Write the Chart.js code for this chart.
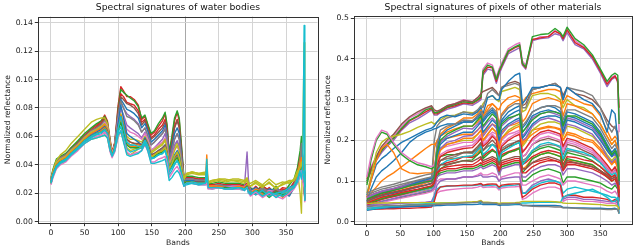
<!DOCTYPE html>
<html><head><meta charset="utf-8">
<script src="https://cdn.jsdelivr.net/npm/chart.js@4.4.1/dist/chart.umd.min.js"></script>
<style>
html,body{margin:0;padding:0;background:#fff;width:637px;height:249px;overflow:hidden}
#cl{position:absolute;left:0;top:0;width:320px;height:249px}
#cr{position:absolute;left:320px;top:0;width:317px;height:249px}
</style></head><body>
<canvas id="cl" width="320" height="249"></canvas>
<canvas id="cr" width="317" height="249"></canvas>
<script>
// ---------------- Left chart: water bodies ----------------
const waterBands = [0,3,8,14,22,30,40,50,60,68, 75,80,84,88,91,95,100,104,108,113, 118,124,130,135,140,144,149,154,160,166, 170,173,176,180,184,188,191,195,198,202, 210,220,230,232,234,240,250,260,270,280, 288,292,294,297,305,315,325,335,345,355, 362,367,371,373,375,377,378];

const water01 = [.030,.036,.043,.045,.047,.052,.056,.061,.065,.068, .071,.075,.071,.058,.049,.056,.082,.095,.092,.088, .088,.086,.082,.072,.074,.068,.061,.063,.067,.071, .076,.066,.047,.058,.071,.077,.071,.048,.030,.031, .031,.030,.030,.031,.026,.026,.027,.026,.026,.026, .025,.027,.024,.021,.025,.020,.024,.019,.023,.021, .027,.033,.043,.052,.045,.035,.020];
const water02 = [.031,.037,.044,.046,.048,.052,.057,.062,.066,.069, .071,.074,.070,.057,.048,.055,.080,.093,.091,.089, .087,.085,.081,.073,.075,.069,.062,.064,.069,.073, .077,.068,.049,.060,.073,.078,.073,.050,.031,.032, .032,.031,.031,.032,.027,.027,.028,.027,.027,.027, .026,.030,.025,.024,.021,.026,.020,.025,.019,.026, .030,.038,.050,.060,.045,.040,.025];
const water03 = [.029,.035,.041,.044,.046,.050,.055,.060,.064,.066, .069,.072,.068,.056,.048,.054,.076,.088,.086,.083, .082,.080,.076,.068,.071,.065,.058,.060,.063,.066, .070,.062,.046,.055,.066,.071,.066,.045,.030,.030, .030,.029,.029,.030,.025,.025,.026,.025,.025,.025, .024,.026,.023,.020,.024,.019,.023,.021,.018,.024, .026,.032,.040,.045,.035,.030,.018];
const water04 = [.028,.034,.040,.043,.045,.049,.053,.058,.062,.064, .066,.069,.066,.054,.047,.053,.072,.084,.080,.076, .074,.072,.069,.063,.066,.061,.054,.056,.059,.062, .066,.058,.043,.050,.058,.062,.058,.041,.029,.030, .030,.029,.029,.030,.025,.025,.026,.025,.025,.025, .024,.049,.030,.022,.020,.024,.019,.023,.021,.020, .025,.030,.038,.042,.030,.025,.016];
const water05 = [.028,.033,.039,.042,.044,.048,.052,.057,.061,.063, .065,.067,.064,.052,.046,.052,.070,.082,.073,.062, .060,.058,.056,.054,.059,.055,.047,.048,.050,.052, .054,.048,.038,.042,.047,.050,.047,.036,.028,.029, .029,.028,.028,.029,.024,.024,.025,.024,.024,.024, .023,.025,.022,.021,.019,.022,.018,.021,.020,.018, .024,.028,.034,.038,.030,.026,.016];
const water06 = [.028,.034,.040,.043,.045,.049,.053,.058,.062,.064, .066,.068,.065,.053,.047,.052,.068,.075,.068,.058, .056,.055,.054,.053,.057,.053,.045,.046,.048,.050, .053,.047,.037,.041,.045,.048,.045,.035,.028,.029, .029,.028,.028,.047,.025,.025,.025,.024,.024,.025, .024,.026,.022,.020,.023,.021,.018,.022,.017,.022, .025,.030,.036,.040,.032,.025,.015];
const water07 = [.029,.036,.043,.047,.050,.055,.060,.065,.070,.072, .073,.073,.069,.056,.048,.053,.066,.066,.060,.052, .050,.051,.052,.053,.058,.055,.048,.050,.052,.054, .057,.050,.040,.046,.052,.056,.052,.040,.031,.034, .035,.034,.035,.036,.028,.029,.030,.029,.030,.030, .029,.031,.027,.027,.029,.026,.030,.026,.028,.027, .030,.036,.020,.006,.060,.126,.040];
const water08 = [.027,.032,.038,.041,.043,.047,.051,.055,.058,.059, .060,.061,.059,.050,.046,.050,.061,.064,.056,.047, .046,.047,.048,.050,.055,.050,.041,.041,.042,.043, .044,.038,.029,.031,.034,.036,.034,.029,.025,.027, .027,.026,.027,.044,.024,.024,.024,.023,.023,.024, .022,.024,.021,.019,.022,.018,.021,.017,.020,.022, .024,.028,.035,.030,.040,.138,.015];
const water09 = [.026,.031,.037,.040,.042,.046,.050,.055,.058,.060, .061,.063,.060,.049,.045,.049,.060,.064,.057,.049, .047,.048,.049,.050,.054,.050,.042,.042,.044,.045, .046,.041,.031,.034,.037,.039,.036,.030,.025,.027, .027,.026,.026,.027,.023,.023,.024,.023,.023,.023, .022,.024,.021,.018,.021,.017,.020,.018,.016,.020, .023,.027,.033,.036,.028,.024,.014];
const water10 = [.027,.033,.039,.042,.044,.048,.052,.057,.060,.062, .064,.066,.063,.051,.046,.051,.066,.072,.065,.056, .054,.053,.053,.052,.057,.053,.046,.047,.049,.051, .053,.047,.036,.040,.044,.046,.043,.034,.027,.028, .028,.027,.027,.028,.024,.024,.025,.024,.024,.024, .023,.025,.022,.022,.019,.023,.020,.019,.022,.019, .025,.029,.036,.055,.040,.028,.017];
const water11 = [.029,.035,.042,.045,.047,.051,.055,.060,.064,.067, .070,.073,.069,.056,.048,.055,.078,.090,.088,.084, .083,.082,.078,.070,.072,.066,.059,.061,.065,.068, .072,.064,.045,.055,.067,.072,.067,.046,.030,.031, .031,.030,.030,.031,.026,.026,.026,.026,.026,.026, .025,.027,.024,.023,.021,.025,.022,.020,.024,.023, .028,.035,.045,.050,.040,.032,.020];
const water12 = [.028,.034,.040,.043,.045,.049,.053,.058,.062,.064, .066,.068,.065,.053,.047,.052,.070,.080,.075,.068, .066,.064,.062,.059,.063,.058,.050,.052,.055,.058, .062,.055,.041,.047,.054,.057,.053,.040,.028,.029, .029,.028,.028,.029,.024,.025,.025,.024,.025,.025, .024,.026,.022,.020,.023,.019,.022,.020,.019,.023, .025,.030,.038,.045,.034,.028,.016];
const water13 = [.027,.033,.039,.042,.044,.048,.052,.057,.060,.062, .063,.065,.062,.051,.046,.051,.064,.070,.063,.054, .052,.052,.052,.052,.057,.052,.045,.046,.048,.049, .051,.046,.036,.039,.043,.045,.042,.034,.027,.028, .028,.027,.027,.028,.024,.024,.024,.024,.024,.024, .023,.025,.022,.019,.022,.021,.017,.021,.019,.020, .024,.028,.034,.038,.030,.026,.016];
const water14 = [.028,.033,.039,.042,.044,.048,.052,.056,.060,.062, .064,.066,.063,.052,.046,.051,.067,.074,.067,.058, .056,.055,.055,.054,.058,.054,.047,.048,.050,.052, .054,.048,.037,.040,.045,.047,.044,.035,.027,.028, .028,.028,.028,.029,.024,.024,.025,.024,.024,.024, .023,.025,.022,.021,.020,.022,.019,.022,.018,.021, .024,.029,.036,.040,.031,.027,.017];
const water15 = [.029,.035,.041,.044,.046,.050,.054,.059,.063,.065, .067,.070,.067,.055,.048,.054,.074,.086,.083,.079, .078,.076,.073,.066,.069,.064,.056,.058,.061,.064, .068,.060,.044,.052,.062,.066,.062,.043,.029,.030, .030,.029,.029,.030,.025,.025,.026,.025,.025,.025, .024,.026,.023,.022,.024,.020,.023,.022,.020,.024, .026,.031,.040,.048,.036,.030,.018];
const water16 = [.028,.034,.041,.044,.046,.050,.054,.059,.063,.065, .067,.069,.066,.054,.047,.053,.068,.076,.070,.060, .058,.058,.057,.056,.060,.056,.049,.051,.053,.055, .058,.051,.039,.044,.050,.054,.050,.038,.030,.033, .034,.033,.033,.034,.027,.028,.029,.028,.029,.028, .027,.029,.026,.025,.027,.024,.028,.023,.027,.029, .029,.034,.042,.050,.045,.032,.020];
const water17 = [.028,.033,.039,.042,.044,.048,.052,.056,.059,.061, .062,.064,.062,.051,.046,.051,.063,.067,.060,.051, .049,.050,.051,.052,.057,.053,.045,.045,.047,.048, .050,.045,.035,.038,.041,.043,.040,.033,.026,.027, .028,.027,.027,.028,.024,.024,.024,.023,.024,.024, .023,.024,.021,.021,.019,.022,.018,.020,.021,.024, .025,.030,.036,.035,.033,.030,.018];
const water18 = [.029,.034,.041,.044,.046,.050,.054,.059,.063,.065, .067,.070,.067,.055,.048,.054,.072,.080,.074,.065, .063,.062,.060,.058,.062,.058,.050,.052,.054,.056, .059,.052,.040,.045,.051,.053,.049,.038,.028,.029, .029,.028,.028,.029,.024,.025,.025,.024,.025,.025, .024,.026,.022,.021,.023,.019,.022,.021,.019,.022, .025,.030,.038,.042,.032,.027,.016];
const water19 = [.029,.035,.042,.045,.047,.051,.055,.060,.064,.066, .068,.071,.068,.055,.048,.054,.075,.085,.080,.074, .073,.071,.068,.063,.066,.061,.054,.056,.059,.062, .065,.058,.043,.050,.058,.062,.058,.042,.029,.030, .030,.029,.029,.030,.025,.025,.026,.025,.025,.025, .024,.026,.023,.022,.020,.024,.021,.023,.019,.022, .026,.032,.042,.055,.045,.032,.018];
const water20 = [.027,.033,.039,.042,.044,.048,.052,.057,.060,.062, .064,.066,.063,.051,.046,.051,.065,.071,.064,.055, .053,.053,.053,.053,.057,.053,.046,.047,.049,.050, .052,.047,.036,.039,.043,.045,.042,.034,.027,.028, .028,.027,.027,.040,.025,.025,.025,.024,.024,.024, .023,.025,.022,.020,.022,.019,.021,.018,.020,.021, .024,.030,.040,.045,.035,.028,.016];
const water21 = [.027,.032,.038,.041,.043,.047,.051,.055,.058,.059, .060,.061,.059,.050,.046,.050,.060,.063,.057,.048, .047,.049,.051,.053,.057,.053,.045,.047,.049,.050, .052,.047,.037,.041,.046,.049,.045,.035,.030,.034, .035,.034,.034,.035,.028,.029,.030,.030,.029,.029, .028,.030,.026,.025,.028,.025,.027,.024,.026,.028, .029,.033,.038,.042,.035,.030,.020];
const water22 = [.028,.033,.039,.042,.044,.048,.052,.057,.060,.062, .063,.065,.062,.051,.046,.051,.066,.074,.066,.056, .054,.054,.053,.053,.057,.053,.044,.045,.047,.048, .050,.045,.033,.036,.040,.043,.040,.032,.025,.026, .027,.026,.026,.033,.024,.023,.024,.023,.023,.023, .022,.024,.020,.019,.021,.018,.021,.019,.018,.021, .024,.027,.032,.036,.034,.036,.015];

const waterSeries = [water08,water09,water22,water17,water21,water13,water20,water10,water14,water05,water06,water16,water18,water12,water07,water19,water04,water15,water03,water11,water02,water01];
const waterColors = ['cyan','pink','cyan','cyan','olive','green','orange','gray','brown','blue','orange','olive','pink','purple','olive','gray','purple','blue','brown','red','green','red'];

const waterXTicks = [0,50,100,150,200,250,300,350];
const waterXTickLabels = ['0','50','100','150','200','250','300','350'];
const waterYTicks = [0,0.02,0.04,0.06,0.08,0.10,0.12,0.14];
const waterYTickLabels = ['0.00','0.02','0.04','0.06','0.08','0.10','0.12','0.14'];

// ---------------- Right chart: other materials ----------------
const otherBands = [0,6,14,22,30,40,52,64,76,88, 97,101,105,110,120,132,145,158,166,171, 174,181,188,194,198,202,212,222,229,233, 238,248,260,272,282,290,294,300,312,325, 338,350,360,367,372,376,378];

const topPink = [.11,.135,.16,.18,.195,.21,.235,.255,.265,.278, .282,.27,.27,.275,.285,.29,.30,.295,.305,.31, .375,.39,.385,.355,.375,.39,.425,.435,.44,.395, .385,.445,.455,.455,.47,.46,.45,.47,.445,.43, .405,.37,.34,.355,.36,.34,.22];
const topGreen = [.10,.125,.155,.175,.19,.205,.23,.25,.26,.275, .28,.268,.268,.272,.282,.288,.295,.292,.30,.308, .37,.385,.38,.35,.37,.385,.42,.43,.435,.39, .38,.455,.46,.462,.475,.465,.455,.478,.45,.435, .41,.375,.345,.36,.365,.36,.24];
const topRed = [.105,.13,.155,.175,.19,.205,.228,.248,.258,.27, .278,.265,.265,.27,.28,.285,.292,.29,.298,.305, .365,.38,.378,.345,.368,.382,.418,.428,.432,.388, .378,.448,.452,.455,.468,.462,.45,.472,.44,.428, .405,.37,.338,.352,.358,.345,.28];
const topPurple = [.10,.125,.15,.17,.185,.2,.225,.243,.253,.265, .275,.262,.262,.268,.276,.282,.29,.286,.294,.30, .36,.375,.372,.34,.362,.378,.413,.422,.428,.385, .375,.445,.45,.452,.462,.458,.445,.465,.435,.425, .40,.365,.332,.35,.355,.35,.25];
const topBrown = [.095,.125,.16,.185,.20,.215,.24,.258,.27,.28, .285,.275,.272,.275,.285,.29,.298,.295,.305,.315, .32,.325,.33,.32,.31,.33,.34,.345,.34,.285, .29,.325,.33,.335,.34,.33,.31,.33,.315,.31, .30,.28,.25,.235,.23,.22,.16];
const highBlue = [.065,.10,.14,.155,.165,.18,.195,.205,.215,.225, .23,.235,.245,.255,.262,.258,.265,.262,.27,.28, .265,.305,.31,.30,.30,.325,.345,.36,.365,.29, .30,.33,.33,.335,.335,.33,.30,.33,.315,.30, .29,.265,.22,.275,.265,.20,.10];
const highGray = [.06,.065,.07,.075,.078,.082,.088,.095,.10,.105, .11,.20,.235,.245,.255,.26,.27,.265,.275,.285, .28,.315,.325,.315,.31,.33,.335,.34,.335,.28, .28,.325,.33,.335,.34,.33,.30,.33,.325,.32, .31,.28,.24,.22,.235,.21,.12];
const highOlive = [.07,.11,.17,.195,.205,.21,.215,.222,.232,.24, .245,.24,.245,.25,.26,.262,.27,.268,.27,.28, .29,.305,.31,.30,.295,.32,.325,.33,.325,.27, .275,.31,.315,.315,.31,.30,.28,.30,.285,.28, .265,.24,.21,.19,.20,.18,.10];
const highOrange = [.05,.055,.06,.065,.068,.072,.078,.083,.088,.095, .10,.18,.20,.21,.22,.228,.235,.235,.245,.255, .26,.285,.29,.28,.275,.29,.305,.31,.305,.29, .305,.315,.32,.325,.325,.32,.29,.31,.30,.29, .285,.26,.225,.20,.21,.20,.12];
const midGreen = [.055,.06,.065,.07,.073,.077,.082,.088,.093,.098, .10,.11,.17,.20,.215,.225,.235,.235,.25,.26, .235,.25,.265,.255,.215,.24,.255,.26,.265,.22, .23,.25,.265,.27,.27,.265,.235,.26,.26,.25, .24,.215,.185,.165,.175,.16,.10];
const midBlue = [.05,.055,.06,.064,.067,.07,.075,.08,.085,.09, .095,.10,.16,.19,.205,.212,.22,.22,.235,.245, .22,.235,.25,.24,.20,.225,.24,.25,.255,.205, .215,.24,.255,.26,.26,.255,.22,.25,.245,.235, .225,.20,.175,.16,.17,.155,.09];
const midOrange = [.045,.05,.055,.058,.06,.064,.068,.073,.078,.083, .088,.095,.15,.175,.19,.195,.205,.205,.215,.225, .20,.215,.23,.22,.18,.205,.22,.23,.235,.19, .20,.215,.228,.232,.23,.225,.20,.215,.21,.20, .195,.175,.155,.14,.15,.13,.08];
const midRed = [.055,.058,.062,.066,.07,.073,.077,.082,.086,.09, .093,.10,.14,.16,.17,.175,.18,.182,.195,.205, .185,.195,.21,.20,.165,.185,.20,.21,.215,.17, .18,.205,.22,.225,.22,.215,.185,.205,.20,.19, .18,.16,.14,.125,.135,.12,.07];
const midPurple = [.06,.064,.068,.072,.075,.078,.083,.088,.092,.097, .10,.105,.155,.18,.195,.20,.21,.212,.225,.235, .21,.225,.24,.23,.19,.215,.235,.245,.25,.20, .205,.235,.25,.255,.25,.245,.215,.24,.235,.225, .215,.19,.16,.145,.155,.14,.09];
const midCyan = [.045,.05,.054,.058,.06,.063,.067,.072,.076,.08, .083,.09,.12,.14,.15,.155,.16,.162,.175,.185, .165,.175,.19,.18,.15,.17,.18,.19,.195,.14, .15,.175,.19,.195,.19,.185,.155,.18,.175,.17, .16,.145,.125,.115,.12,.11,.06];
const midPink = [.04,.045,.05,.054,.058,.062,.066,.07,.075,.08, .085,.09,.14,.165,.175,.18,.185,.188,.20,.21, .19,.20,.215,.205,.165,.19,.205,.215,.22,.16, .165,.19,.205,.21,.205,.20,.17,.195,.19,.18, .17,.15,.13,.12,.125,.11,.07];
const midGray = [.065,.07,.075,.08,.083,.087,.092,.097,.102,.107, .11,.12,.19,.225,.235,.24,.25,.248,.26,.27, .255,.27,.28,.27,.235,.26,.28,.29,.29,.235, .245,.27,.28,.285,.285,.28,.25,.275,.275,.265, .255,.23,.20,.18,.19,.175,.11];
const midOlive = [.05,.052,.055,.058,.06,.063,.066,.07,.074,.078, .082,.09,.15,.18,.19,.195,.20,.20,.215,.225, .20,.215,.23,.22,.18,.205,.225,.235,.24,.185, .195,.225,.24,.245,.245,.24,.21,.235,.23,.22, .21,.19,.165,.15,.16,.145,.09];
const midBrown = [.05,.053,.056,.06,.063,.066,.07,.074,.078,.082, .085,.09,.13,.15,.16,.165,.17,.172,.185,.195, .175,.19,.20,.19,.155,.175,.185,.195,.20,.16, .165,.19,.20,.205,.20,.195,.165,.19,.185,.175, .165,.15,.13,.12,.125,.11,.07];
const midBlue2 = [.055,.06,.065,.07,.073,.077,.083,.09,.097,.103, .108,.115,.18,.21,.225,.235,.245,.245,.26,.27, .25,.265,.275,.265,.225,.25,.27,.28,.285,.23, .24,.27,.28,.285,.28,.27,.24,.27,.265,.255, .245,.22,.19,.17,.18,.165,.10];
const midGreen2 = [.04,.043,.047,.05,.053,.056,.06,.064,.068,.072, .076,.08,.11,.13,.14,.145,.15,.152,.165,.175, .155,.165,.175,.17,.14,.16,.17,.175,.18,.12, .13,.155,.165,.17,.165,.16,.13,.155,.15,.145, .14,.125,.11,.10,.105,.095,.05];
const midPurple2 = [.06,.065,.07,.075,.078,.082,.087,.092,.097,.102, .105,.11,.17,.195,.21,.22,.23,.228,.24,.25, .23,.245,.255,.245,.21,.235,.25,.26,.265,.21, .22,.255,.265,.27,.265,.26,.23,.255,.25,.24, .23,.205,.175,.16,.165,.15,.09];
const midOrange2 = [.055,.06,.065,.07,.073,.077,.082,.087,.092,.097, .10,.11,.18,.215,.23,.24,.255,.255,.265,.275, .26,.275,.29,.28,.24,.265,.285,.295,.30,.245, .255,.29,.30,.305,.30,.295,.26,.29,.285,.275, .265,.24,.21,.19,.20,.18,.11];
const midRed2 = [.06,.065,.07,.074,.077,.08,.085,.09,.095,.10, .103,.108,.125,.14,.145,.15,.16,.158,.165,.172, .16,.17,.178,.17,.15,.165,.172,.178,.182,.14, .145,.16,.17,.175,.172,.168,.14,.16,.158,.152, .148,.135,.12,.11,.115,.10,.06];
const midGray2 = [.07,.075,.08,.085,.088,.092,.098,.104,.11,.115, .118,.122,.14,.15,.155,.16,.17,.168,.178,.188, .175,.185,.19,.185,.16,.18,.19,.195,.20,.15, .155,.175,.185,.19,.188,.182,.155,.175,.172,.165, .16,.145,.13,.12,.125,.11,.06];
const lowRed = [.045,.05,.055,.06,.063,.067,.072,.076,.08,.085, .088,.095,.12,.125,.13,.13,.135,.135,.14,.145, .14,.145,.15,.145,.125,.14,.145,.15,.15,.12, .12,.135,.145,.15,.15,.145,.125,.14,.14,.135, .13,.12,.11,.10,.105,.09,.06];
const lowBrown = [.05,.055,.06,.064,.068,.072,.076,.08,.085,.09, .095,.10,.13,.14,.14,.145,.15,.148,.155,.16, .15,.155,.16,.155,.14,.15,.155,.16,.16,.13, .13,.145,.155,.16,.155,.15,.13,.15,.145,.14, .135,.125,.115,.105,.11,.095,.06];
const lowPurple = [.035,.04,.045,.05,.053,.057,.062,.066,.07,.075, .078,.085,.11,.115,.12,.12,.125,.125,.13,.135, .13,.135,.14,.135,.115,.13,.135,.14,.14,.11, .11,.125,.135,.14,.14,.135,.115,.13,.13,.125, .12,.11,.10,.09,.095,.085,.05];
const lowPink = [.035,.038,.042,.046,.05,.054,.058,.062,.066,.07, .074,.08,.10,.105,.105,.105,.11,.11,.115,.12, .115,.115,.12,.115,.10,.11,.115,.12,.12,.09, .09,.10,.11,.115,.11,.105,.09,.10,.10,.095, .09,.085,.075,.07,.075,.065,.04];
const lowGreen = [.045,.048,.052,.056,.06,.064,.068,.072,.077,.082, .086,.09,.11,.12,.125,.125,.13,.13,.135,.14, .135,.14,.145,.14,.12,.135,.14,.145,.145,.10, .10,.115,.125,.13,.125,.12,.095,.11,.11,.105, .10,.095,.085,.08,.09,.08,.05];
const lowRed2 = [.04,.045,.05,.055,.058,.062,.067,.072,.077,.082, .086,.09,.12,.13,.135,.138,.14,.14,.148,.155, .145,.15,.155,.15,.13,.145,.15,.155,.155,.13, .13,.145,.15,.155,.15,.145,.13,.145,.145,.14, .135,.125,.115,.105,.11,.10,.07];
const flatGray = [.038,.038,.039,.039,.04,.04,.04,.041,.041,.042, .042,.042,.043,.043,.044,.045,.046,.047,.048,.05, .046,.046,.046,.045,.042,.044,.044,.045,.045,.04, .04,.038,.037,.037,.036,.036,.034,.034,.033,.032, .031,.031,.03,.03,.031,.03,.02];
const flatOlive = [.045,.045,.046,.046,.046,.047,.047,.047,.047,.047, .047,.047,.046,.046,.046,.047,.048,.049,.05,.052, .048,.048,.047,.047,.045,.046,.046,.047,.048,.05, .05,.05,.05,.05,.049,.048,.046,.045,.045,.044, .043,.042,.04,.04,.04,.038,.03];
const flatCyan = [.03,.031,.033,.035,.037,.038,.04,.042,.043,.044, .045,.045,.045,.046,.046,.046,.047,.047,.048,.048, .046,.046,.045,.045,.043,.044,.044,.044,.045,.046, .046,.047,.048,.048,.048,.047,.06,.065,.07,.075, .08,.07,.06,.05,.05,.06,.02];
const flatBlue = [.028,.03,.032,.033,.034,.035,.036,.037,.038,.038, .039,.039,.04,.04,.041,.041,.042,.042,.043,.044, .042,.042,.042,.042,.04,.041,.041,.042,.042,.04, .04,.04,.04,.04,.04,.039,.035,.035,.034,.034, .033,.033,.032,.032,.033,.03,.02];
const stepRed = [.03,.03,.031,.031,.032,.032,.033,.033,.034,.035, .036,.05,.075,.085,.088,.088,.09,.09,.092,.094, .09,.092,.093,.092,.085,.09,.092,.093,.093,.06, .065,.08,.09,.095,.095,.09,.06,.065,.065,.06, .06,.058,.055,.05,.055,.05,.03];
const stepCyan = [.033,.034,.035,.036,.037,.037,.038,.038,.039,.04, .04,.06,.08,.086,.087,.088,.088,.089,.09,.092, .088,.089,.09,.09,.082,.087,.089,.09,.092,.07, .07,.085,.095,.10,.10,.095,.07,.08,.085,.08, .075,.07,.065,.06,.06,.055,.03];
const stepPink = [.035,.035,.036,.037,.038,.038,.039,.04,.04,.041, .042,.055,.07,.075,.078,.08,.082,.083,.085,.088, .084,.085,.086,.085,.078,.083,.085,.086,.087,.055, .058,.07,.08,.085,.085,.08,.05,.055,.055,.05, .05,.048,.045,.045,.045,.04,.025];
const stepPurple = [.04,.04,.041,.042,.043,.044,.045,.046,.047,.048, .05,.065,.09,.10,.105,.105,.11,.11,.112,.115, .11,.11,.112,.11,.10,.105,.108,.11,.11,.07, .072,.09,.10,.105,.10,.095,.055,.06,.06,.055, .055,.052,.05,.048,.05,.045,.03];
const bumpPink = [.11,.16,.205,.225,.22,.195,.17,.155,.145,.14, .135,.14,.165,.18,.185,.19,.195,.195,.205,.215, .195,.21,.22,.215,.18,.20,.215,.22,.225,.175, .18,.20,.215,.22,.215,.21,.18,.20,.195,.185, .175,.155,.135,.125,.13,.115,.07];
const bumpGreen = [.09,.15,.20,.22,.215,.19,.165,.15,.14,.135, .13,.135,.15,.16,.165,.165,.17,.17,.18,.19, .175,.185,.19,.185,.155,.175,.185,.19,.195,.145, .15,.17,.18,.185,.18,.175,.15,.17,.165,.16, .15,.135,.12,.11,.115,.10,.06];
const bumpOrange = [.06,.10,.15,.18,.19,.17,.13,.12,.118,.12, .12,.125,.14,.15,.155,.155,.16,.16,.17,.18, .165,.17,.175,.17,.145,.16,.17,.175,.18,.13, .135,.155,.165,.17,.165,.16,.135,.15,.15,.145, .14,.125,.11,.10,.105,.09,.06];
const riseBlue = [.05,.08,.11,.125,.135,.15,.17,.195,.21,.22, .225,.228,.23,.235,.24,.24,.245,.245,.255,.265, .245,.26,.27,.26,.22,.245,.26,.27,.275,.22, .23,.26,.27,.275,.27,.265,.235,.26,.255,.245, .235,.21,.18,.165,.17,.155,.09];
const riseOrange = [.06,.07,.085,.10,.11,.12,.135,.15,.165,.18, .19,.19,.195,.20,.205,.21,.215,.215,.225,.235, .215,.23,.24,.235,.20,.22,.235,.24,.245,.195, .205,.225,.23,.235,.232,.228,.20,.22,.215,.205, .20,.18,.16,.145,.15,.135,.08];

const otherSeries = [flatGray,flatOlive,flatCyan,flatBlue, stepRed,stepCyan,stepPink,stepPurple, lowRed,lowBrown,lowPurple,lowPink,lowGreen,lowRed2,
  midGreen,midBlue,midOrange,midRed,midPurple,midCyan,midPink,midGray,midOlive,midBrown,midBlue2,midGreen2,midPurple2,midOrange2,midRed2,midGray2,
  bumpPink,bumpGreen,bumpOrange,riseBlue,riseOrange, highBlue,highGray,highOlive,highOrange, topBrown,topGreen,topRed,topPurple,topPink];
const otherColors = ['gray','olive','cyan','blue', 'red','cyan','pink','purple', 'red','brown','purple','pink','green','red',
  'green','blue','orange','red','purple','cyan','pink','gray','olive','brown','blue','green','purple','orange','red','gray',
  'pink','green','orange','blue','orange', 'blue','gray','olive','orange', 'brown','green','red','purple','pink'];

const otherXTicks = [0,50,100,150,200,250,300,350];
const otherXTickLabels = ['0','50','100','150','200','250','300','350'];
const otherYTicks = [0,0.1,0.2,0.3,0.4,0.5];
const otherYTickLabels = ['0.0','0.1','0.2','0.3','0.4','0.5'];

// ---------------- rendering ----------------
const TAB = {blue:'#1f77b4',orange:'#ff7f0e',green:'#2ca02c',red:'#d62728',purple:'#9467bd',brown:'#8c564b',pink:'#e377c2',gray:'#7f7f7f',olive:'#bcbd22',cyan:'#17becf'};
const FONT = 'DejaVu Sans';
const SPINE = '#333333';

const spinePlugin = {
  id: 'spines',
  afterDraw(chart) {
    const a = chart.chartArea, c = chart.ctx;
    c.save();
    c.strokeStyle = SPINE; c.lineWidth = 1;
    c.strokeRect(Math.round(a.left) + 0.5, Math.round(a.top) + 0.5, Math.round(a.right) - Math.round(a.left), Math.round(a.bottom) - Math.round(a.top));
    c.restore();
  }
};

function makeChart(id, cfg) {
  const datasets = cfg.series.map((vals, i) => ({
    data: cfg.bands.map((b, j) => ({x: b, y: vals[j]})),
    borderColor: TAB[cfg.colors[i]],
    borderWidth: 1.4,
    pointRadius: 0,
    borderJoinStyle: 'round',
    tension: 0,
    fill: false
  }));
  const el = document.getElementById(id);
  return new Chart(el, {
    type: 'line',
    data: {datasets},
    plugins: [spinePlugin],
    options: {
      responsive: false,
      animation: false,
      events: [],
      layout: {padding: {left: 0, right: cfg.padRight, top: 0, bottom: 0}},
      plugins: {
        legend: {display: false},
        tooltip: {enabled: false},
        title: {
          display: true, text: cfg.title, fullSize: false, color: '#111',
          font: {family: FONT, size: 9.25, weight: 'normal', lineHeight: 1.2},
          padding: {top: cfg.titleTop, bottom: cfg.titleBottom}
        }
      },
      scales: {
        x: {
          type: 'linear', min: cfg.xMin, max: cfg.xMax,
          afterFit: s => { s.height = cfg.xAxisH; },
          afterBuildTicks: s => { s.ticks = cfg.xTicks.map(v => ({value: v})); },
          ticks: {autoSkip: false, maxRotation: 0, padding: 2, color: '#222',
            font: {family: FONT, size: 7.7, lineHeight: 1.2},
            callback: (v, i) => cfg.xTickLabels[i]},
          grid: {color: ctx => (ctx.tick && ctx.tick.value === 200) ? '#a8a8a8' : '#d4d4d4', lineWidth: 1,
            drawTicks: true, tickLength: 3.5, tickColor: SPINE, tickWidth: 1},
          border: {display: false},
          title: {display: true, text: 'Bands', color: '#222',
            font: {family: FONT, size: 7.7, lineHeight: 1.2}, padding: {top: 0, bottom: 1.4}}
        },
        y: {
          type: 'linear', min: cfg.yMin, max: cfg.yMax,
          afterFit: s => { s.width = cfg.yAxisW; },
          afterBuildTicks: s => { s.ticks = cfg.yTicks.map(v => ({value: v})); },
          ticks: {autoSkip: false, padding: 2, color: '#222',
            font: {family: FONT, size: 7.7, lineHeight: 1.2},
            callback: (v, i) => cfg.yTickLabels[i]},
          grid: {color: '#d4d4d4', lineWidth: 1, drawTicks: true, tickLength: 3.5, tickColor: SPINE, tickWidth: 1},
          border: {display: false},
          title: {display: true, text: 'Normalized reflectance', color: '#222',
            font: {family: FONT, size: 7.7, lineHeight: 1.2}, padding: {top: 3.4, bottom: 0}}
        }
      }
    }
  });
}

makeChart('cl', {
  title: 'Spectral signatures of water bodies',
  bands: waterBands, series: waterSeries, colors: waterColors,
  xTicks: waterXTicks, xTickLabels: waterXTickLabels, yTicks: waterYTicks, yTickLabels: waterYTickLabels,
  xMin: -18.9, xMax: 396.9, yMin: -0.0007, yMax: 0.14436,
  yAxisW: 38.3, xAxisH: 249 - 222.7, padRight: 320 - 317.5, titleTop: 2.45, titleBottom: 2.95
});
makeChart('cr', {
  title: 'Spectral signatures of pixels of other materials',
  bands: otherBands, series: otherSeries, colors: otherColors,
  xTicks: otherXTicks, xTickLabels: otherXTickLabels, yTicks: otherYTicks, yTickLabels: otherYTickLabels,
  xMin: -18.9, xMax: 396.9, yMin: -0.0044, yMax: 0.5049,
  yAxisW: 34.3, xAxisH: 249 - 223.5, padRight: 317 - 311.7, titleTop: 2.25, titleBottom: 2.95
});
</script></body></html>
